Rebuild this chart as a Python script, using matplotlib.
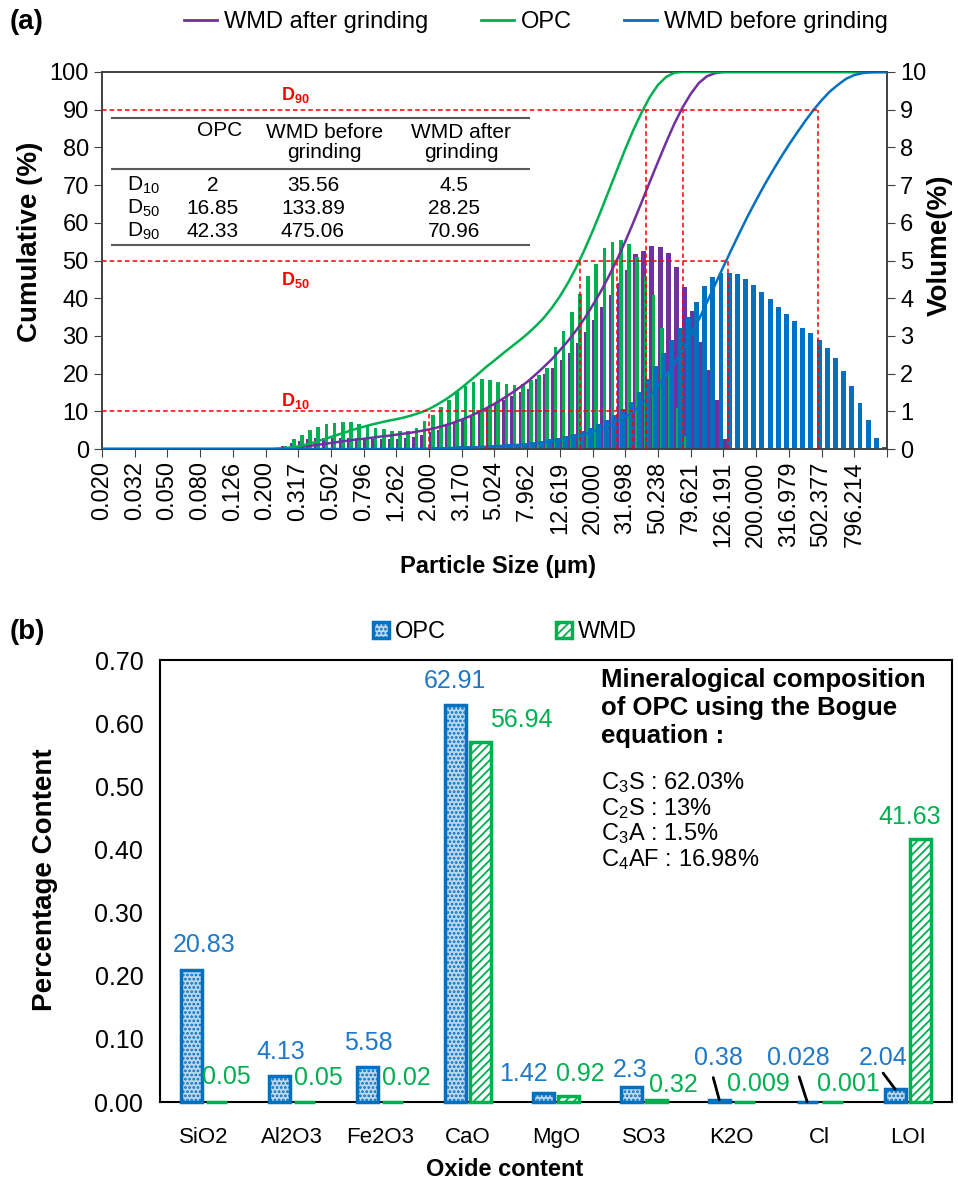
import numpy as np
import matplotlib.pyplot as plt
from matplotlib.lines import Line2D

plt.rcParams['font.family'] = ['Liberation Sans', 'DejaVu Sans']
plt.rcParams['mathtext.fontset'] = 'custom'
plt.rcParams['mathtext.rm'] = 'Liberation Sans'
plt.rcParams['mathtext.bf'] = 'Liberation Sans:bold'
plt.rcParams['mathtext.it'] = 'Liberation Sans:italic'
plt.rcParams['hatch.linewidth'] = 1.3

# ---------------- panel (a) data ----------------
# 97 size classes on a category axis, a label on every 4th class
n_classes = 97
label_step = 4
size_labels = ['0.020', '0.032', '0.050', '0.080', '0.126', '0.200', '0.317',
               '0.502', '0.796', '1.262', '2.000', '3.170', '5.024', '7.962',
               '12.619', '20.000', '31.698', '50.238', '79.621', '126.191',
               '200.000', '316.979', '502.377', '796.214']

# volume (%) per class, starting at the first non-zero class
opc_vol_start = 22
opc_vol = [0.09, 0.26, 0.38, 0.5, 0.58, 0.66, 0.69, 0.72, 0.72, 0.67, 0.62, 0.56,
           0.53, 0.49, 0.47, 0.49, 0.57, 0.73, 0.91, 1.11, 1.31, 1.53, 1.68, 1.79,
           1.85, 1.84, 1.79, 1.73, 1.70, 1.73, 1.82, 1.97, 2.16, 2.7, 3.14, 3.63,
           4.11, 4.6, 4.92, 5.32, 5.5, 5.55, 5.45, 5.1, 4.6, 4.09, 3.2, 2.1, 1.1, 0.35]
after_vol_start = 22
after_vol = [0.08, 0.15, 0.22, 0.26, 0.28, 0.3, 0.3, 0.3, 0.29, 0.28, 0.27, 0.26,
             0.26, 0.26, 0.27, 0.29, 0.33, 0.38, 0.45, 0.5, 0.6, 0.7, 0.8, 0.9, 1.0,
             1.1, 1.2, 1.3, 1.4, 1.5, 1.6, 1.85, 2.0, 2.15, 2.35, 2.55, 2.8, 3.1,
             3.42, 3.76, 4.09, 4.4, 4.75, 5.17, 5.26, 5.38, 5.37, 5.21, 4.84, 4.31,
             3.65, 2.85, 2.1, 1.31, 0.27]
before_vol_start = 38
before_vol = [0.02, 0.03, 0.04, 0.05, 0.06, 0.07, 0.08, 0.08, 0.09, 0.1, 0.11, 0.12,
              0.13, 0.15, 0.18, 0.22, 0.26, 0.3, 0.35, 0.41, 0.48, 0.56, 0.65, 0.76,
              0.9, 1.05, 1.25, 1.5, 1.85, 2.2, 2.55, 2.9, 3.2, 3.5, 3.9, 4.32, 4.57,
              4.68, 4.68, 4.64, 4.51, 4.35, 4.16, 3.97, 3.76, 3.58, 3.40, 3.2, 3.07,
              2.88, 2.67, 2.41, 2.08, 1.68, 1.22, 0.78, 0.29, 0.05]

# cumulative (%) per class, 0 before the start and 100 after the end
opc_cum_start = 22
opc_cum = [0.1, 0.4, 0.7, 1.2, 1.8, 2.5, 3.2, 3.9, 4.6, 5.3, 5.9, 6.5, 7.0, 7.5, 7.9,
           8.4, 9.0, 9.7, 10.6, 11.8, 13.1, 14.6, 16.3, 18.1, 19.9, 21.8, 23.5, 25.3,
           27.0, 28.7, 30.5, 32.5, 34.7, 37.4, 40.5, 44.1, 48.2, 52.8, 57.8, 63.1,
           68.6, 74.1, 79.6, 84.7, 89.3, 93.4, 96.6, 98.7, 99.8, 100.0]
after_cum_start = 22
after_cum = [0.1, 0.2, 0.5, 0.7, 1.0, 1.3, 1.6, 1.9, 2.2, 2.5, 2.7, 3.0, 3.3, 3.5,
             3.8, 4.1, 4.4, 4.8, 5.2, 5.7, 6.3, 7.0, 7.8, 8.7, 9.7, 10.8, 12.0, 13.3,
             14.7, 16.2, 17.8, 19.7, 21.7, 23.8, 26.2, 28.7, 31.5, 34.6, 38.1, 41.8,
             45.9, 50.3, 55.1, 60.2, 65.5, 70.9, 76.2, 81.4, 86.3, 90.6, 94.2, 97.1,
             98.9, 99.7, 100.0]
before_cum_start = 38
before_cum = [0.0, 0.05, 0.1, 0.1, 0.2, 0.3, 0.35, 0.4, 0.5, 0.6, 0.7, 0.85, 1.0,
              1.1, 1.3, 1.5, 1.8, 2.1, 2.4, 2.9, 3.3, 3.9, 4.5, 5.3, 6.2, 7.3, 8.5,
              10.0, 11.9, 14.1, 16.6, 19.5, 22.7, 26.2, 30.1, 34.4, 39.0, 43.7, 48.4,
              53.0, 57.5, 61.9, 66.0, 70.0, 73.7, 77.3, 80.7, 83.9, 87.0, 89.9, 92.5,
              94.8, 96.6, 98.2, 99.2, 99.7, 99.95, 100.0]

# characteristic diameters (um)
d_names = ['10', '50', '90']
d_levels = [10, 50, 90]
opc_d = [2, 16.85, 42.33]
before_d = [35.56, 133.89, 475.06]
after_d = [4.5, 28.25, 70.96]

# ---------------- panel (b) data ----------------
oxides = ['SiO2', 'Al2O3', 'Fe2O3', 'CaO', 'MgO', 'SO3', 'K2O', 'Cl', 'LOI']
opc_oxide = [20.83, 4.13, 5.58, 62.91, 1.42, 2.3, 0.38, 0.028, 2.04]
wmd_oxide = [0.05, 0.05, 0.02, 56.94, 0.92, 0.32, 0.009, 0.001, 41.63]
bogue = ['C$_3$S : 62.03%', 'C$_2$S : 13%', 'C$_3$A : 1.5%', 'C$_4$AF : 16.98%']

GREEN = '#00B050'
PURPLE = '#7030A0'
BLUE = '#0070C0'
AXC = '#404040'


def spread(start, vals, tail):
    out = np.full(n_classes, float(tail))
    out[:start] = 0.0
    out[start:start + len(vals)] = vals
    return out


W, H = 958, 1191
fig = plt.figure(figsize=(W / 100, H / 100), dpi=100)

# ---------------- (a) ----------------
ax = fig.add_axes([102 / W, 1 - 449 / H, 785 / W, 377 / H])
ax2 = ax.twinx()
ax.set_zorder(ax2.get_zorder() + 1)
ax.patch.set_visible(False)

x = np.arange(n_classes)
ax2.bar(x + 0.25, spread(after_vol_start, after_vol, 0), 0.6, color=PURPLE, lw=0, zorder=1)
ax2.bar(x + 0.45, spread(opc_vol_start, opc_vol, 0), 0.45, color=GREEN, lw=0, zorder=2)
ax2.bar(x + 0.7, spread(before_vol_start, before_vol, 0), 0.6, color=BLUE, lw=0, zorder=3)

ax.plot(x, spread(after_cum_start, after_cum, 100), color=PURPLE, lw=1.8, zorder=3)
ax.plot(x, spread(opc_cum_start, opc_cum, 100), color=GREEN, lw=1.8, zorder=3)
ax.plot(x, spread(before_cum_start, before_cum, 100), color=BLUE, lw=1.8, zorder=3)

ax.set_xlim(0, n_classes - 1)
ax.set_ylim(0, 100)
ax2.set_ylim(0, 10)
ax.set_xticks(np.arange(0, n_classes, label_step))
ax.set_xticklabels(size_labels + [''], rotation=90, fontsize=17)
ax.set_yticks(np.arange(0, 101, 10))
ax2.set_yticks(np.arange(0, 11, 1))
ax.tick_params(axis='y', labelsize=17, direction='out', length=6, color=AXC)
ax.tick_params(axis='x', direction='out', length=6, color=AXC, pad=3)
ax2.tick_params(axis='y', labelsize=17, direction='out', length=6, color=AXC)
for a in (ax, ax2):
    for s in a.spines.values():
        s.set_color(AXC)
        s.set_linewidth(1.2)

# D10 / D50 / D90 guide lines
tick_pos = np.arange(len(size_labels)) * label_step
tick_log = np.log10([float(s) for s in size_labels])


def cat_pos(d):
    return np.interp(np.log10(d), tick_log, tick_pos)


dash = (0, (3, 2))
for j, lvl in enumerate(d_levels):
    ax.plot([0, cat_pos(before_d[j])], [lvl, lvl], color='red', ls=dash, lw=1.1, zorder=4)
    for dv in (opc_d, before_d, after_d):
        xp = cat_pos(dv[j])
        ax.plot([xp, xp], [0, lvl], color='red', ls=dash, lw=1.1, zorder=4)

for name, yy in zip(d_names, [12.6, 44.8, 93.8]):
    ax.text(23.6, yy, r'$\mathbf{D_{%s}}$' % name, color='red', fontsize=13,
            ha='center', va='center')

# table of characteristic diameters
ax.hlines([87.9, 74.4, 54.1], 1.07, 52.3, color='#595959', lw=1.5, zorder=4)
tf = 15
ax.text(14.4, 84.4, 'OPC', fontsize=tf, ha='center', va='center')
ax.text(27.2, 81.3, 'WMD before\ngrinding', fontsize=tf, ha='center', va='center',
        linespacing=1.05)
ax.text(43.9, 81.3, 'WMD after\ngrinding', fontsize=tf, ha='center', va='center',
        linespacing=1.05)
for j, yy in enumerate([70.0, 63.8, 57.6]):
    ax.text(5.1, yy, r'D$_{%s}$' % d_names[j], fontsize=tf, ha='center', va='center')
    ax.text(13.55, yy, f'{opc_d[j]:g}', fontsize=tf, ha='center', va='center')
    ax.text(25.8, yy, f'{before_d[j]:g}', fontsize=tf, ha='center', va='center')
    ax.text(43.1, yy, f'{after_d[j]:g}', fontsize=tf, ha='center', va='center')

handles = [Line2D([], [], color=c, lw=2) for c in (PURPLE, GREEN, BLUE)]
fig.legend(handles, ['WMD after grinding', 'OPC', 'WMD before grinding'],
           loc='center', bbox_to_anchor=(536 / W, 1 - 22 / H), ncol=3, frameon=False,
           fontsize=17, handlelength=1.4, handletextpad=0.3, columnspacing=2.2)

fig.text(27 / W, 1 - 22 / H, '(a)', fontsize=20, fontweight='bold', ha='center', va='center')
fig.text(30 / W, 1 - 242 / H, 'Cumulative (%)', fontsize=20, fontweight='bold',
         rotation=90, ha='center', va='center')
fig.text(940 / W, 1 - 245 / H, 'Volume(%)', fontsize=20, fontweight='bold',
         rotation=90, ha='center', va='center')
fig.text(498 / W, 1 - 566 / H, 'Particle Size (µm)', fontsize=17, fontweight='bold',
         ha='center', va='center')

# ---------------- (b) ----------------
bx = fig.add_axes([160 / W, 1 - 1102 / H, 791.6 / W, 442 / H])
k = np.arange(len(oxides))
opc_frac = np.array(opc_oxide) / 100
wmd_frac = np.array(wmd_oxide) / 100
b1 = bx.bar(k - 0.142, opc_frac, 0.24, facecolor='#BDD7EE', edgecolor=BLUE,
            hatch='....', lw=2.5, label='OPC', zorder=3, clip_on=False)
b2 = bx.bar(k + 0.142, wmd_frac, 0.24, facecolor='white', edgecolor=GREEN,
            hatch='////', lw=2.5, label='WMD', zorder=3, clip_on=False)
bx.set_xlim(-0.5, len(oxides) - 0.5)
bx.set_ylim(0, 0.70)
bx.set_yticks(np.arange(0, 0.71, 0.1))
bx.set_yticklabels([f'{v:.2f}' for v in np.arange(0, 0.71, 0.1)])
bx.set_xticks(k)
bx.set_xticklabels(oxides)
bx.tick_params(axis='y', length=0, labelsize=18, pad=12)
bx.tick_params(axis='x', length=0, labelsize=16, pad=18)
for s in bx.spines.values():
    s.set_color('black')
    s.set_linewidth(1.5)
    s.set_zorder(2)

# label offsets from the bar tops (pixels)
opc_off = [(13, 25), (1, 24), (1, 23.5), (0, 24), (-20, 19), (-1, 17.5),
           (-1, 42), (-9, 44), (-12, 31)]
wmd_off = [(10, 25), (14, 24), (14, 24), (41, 22.5), (12, 22), (17, 15),
           (14, 18), (16, 18), (-10, 22.5)]
leader_off = {6: (-6, 22), 7: (-8, 25), 8: (-12, 16)}
for i in k:
    bx.annotate(f'{opc_oxide[i]:g}', xy=(i - 0.142, opc_frac[i]), xytext=opc_off[i],
                textcoords='offset pixels', ha='center', va='center',
                color='#1F78C8', fontsize=18)
    bx.annotate(f'{wmd_oxide[i]:g}', xy=(i + 0.142, wmd_frac[i]), xytext=wmd_off[i],
                textcoords='offset pixels', ha='center', va='center',
                color=GREEN, fontsize=18)
    if i in leader_off:
        bx.annotate('', xy=(i - 0.142, opc_frac[i]), xytext=leader_off[i],
                    textcoords='offset pixels',
                    arrowprops=dict(arrowstyle='-', color='black', lw=2,
                                    shrinkA=0, shrinkB=0))

fig.legend([b1, b2], ['OPC', 'WMD'], loc='center', bbox_to_anchor=(505 / W, 1 - 632 / H),
           ncol=2, frameon=False, fontsize=17, handlelength=0.65, handleheight=0.65,
           handletextpad=0.25, columnspacing=4.7)

fig.text(601 / W, 1 - 668 / H, 'Mineralogical composition\nof OPC using the Bogue\nequation :',
         fontsize=18.5, fontweight='bold', ha='left', va='top')
for j, line in enumerate(bogue):
    fig.text(601 / W, 1 - (783 + 25.5 * j) / H, line, fontsize=17, ha='left', va='center')

fig.text(27 / W, 1 - 632 / H, '(b)', fontsize=20, fontweight='bold', ha='center', va='center')
fig.text(45 / W, 1 - 880 / H, 'Percentage Content', fontsize=20, fontweight='bold',
         rotation=90, ha='center', va='center')
fig.text(505 / W, 1 - 1170 / H, 'Oxide content', fontsize=17, fontweight='bold',
         ha='center', va='center')

fig.savefig('out.png', dpi=100)
